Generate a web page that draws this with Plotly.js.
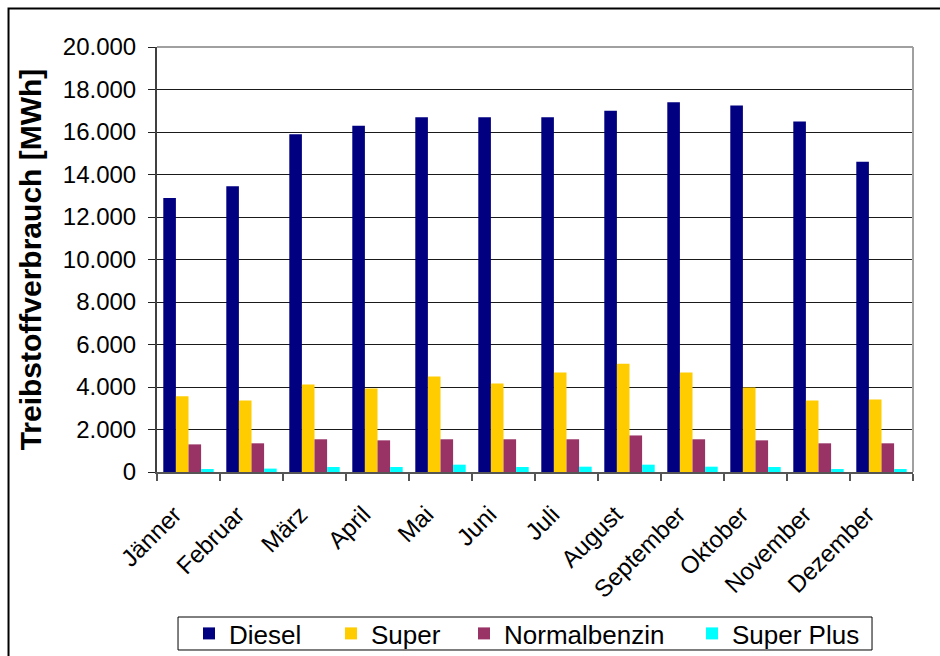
<!DOCTYPE html>
<html>
<head>
<meta charset="utf-8">
<script src="https://cdn.plot.ly/plotly-3.0.1.min.js"></script>
<style>
  html, body { margin: 0; padding: 0; background: #fff; }
  #chart { width: 940px; height: 656px; }
</style>
</head>
<body>
<div id="chart"></div>
<script>
const months = ["Jänner", "Februar", "März", "April", "Mai", "Juni", "Juli", "August", "September", "Oktober", "November", "Dezember"];
const diesel = [12900, 13450, 15900, 16300, 16700, 16700, 16700, 17000, 17400, 17250, 16500, 14600];
const superB = [3570, 3370, 4120, 3930, 4500, 4160, 4680, 5100, 4680, 3980, 3370, 3410];
const normalbenzin = [1300, 1350, 1540, 1490, 1540, 1540, 1540, 1720, 1540, 1490, 1350, 1350];
const superPlus = [140, 160, 235, 235, 345, 235, 250, 345, 250, 235, 140, 140];
const seriesNames = ["Diesel", "Super", "Normalbenzin", "Super Plus"];
const seriesColors = ["#000080", "#FFCC00", "#993366", "#00FFFF"];
const yTitle = "Treibstoffverbrauch [MWh]";

const legendIds = ["legend", "legend2", "legend3", "legend4"];
const legendLeftPx = [189, 331, 464, 692];

const values = [diesel, superB, normalbenzin, superPlus];
const traces = values.map((v, i) => ({
  type: "bar",
  name: seriesNames[i],
  x: months,
  y: v,
  legend: legendIds[i],
  marker: { color: seriesColors[i], line: { width: 0 } },
  hoverinfo: "x+y+name"
}));

const FONT = "Liberation Sans, Arial, sans-serif";
const layout = {
  width: 940,
  height: 656,
  margin: { l: 157, r: 27, t: 47, b: 184 },
  paper_bgcolor: "#ffffff",
  plot_bgcolor: "#ffffff",
  separators: ",.",
  font: { family: FONT, color: "#000000", size: 24 },
  barmode: "group",
  bargap: 0.2,
  bargroupgap: 0,
  showlegend: true,
  xaxis: {
    type: "category",
    automargin: false,
    tickangle: -45,
    showline: true,
    linecolor: "#555555",
    linewidth: 2,
    ticks: "outside",
    tickson: "boundaries",
    ticklen: 7,
    tickwidth: 2,
    tickcolor: "#555555",
    showgrid: false,
    ticklabelstandoff: 17,
    ticklabelshift: -14,
    tickfont: { family: FONT, size: 24, color: "#000000" },
    fixedrange: true
  },
  yaxis: {
    automargin: false,
    range: [0, 20000],
    dtick: 2000,
    tick0: 0,
    tickformat: ",d",
    showline: true,
    linecolor: "#404040",
    linewidth: 2,
    ticks: "outside",
    ticklen: 7,
    tickwidth: 1,
    tickcolor: "#222222",
    showgrid: true,
    gridcolor: "#1a1a1a",
    gridwidth: 1,
    zeroline: false,
    ticklabelstandoff: 7,
    tickfont: { family: FONT, size: 24, color: "#000000" },
    title: { text: "<b>" + yTitle + "</b>", font: { family: FONT, size: 30, color: "#000000" }, standoff: 12 },
    fixedrange: true
  },
  shapes: [
    { type: "line", xref: "paper", yref: "paper", x0: 0, x1: 1, y0: 1, y1: 1, line: { color: "#a0a0a0", width: 2 } },
    { type: "line", xref: "paper", yref: "paper", x0: 1, x1: 1, y0: 0, y1: 1, line: { color: "#a0a0a0", width: 2 } },
    { type: "rect", xref: "paper", yref: "paper", x0: -0.1964, x1: 1.1, y0: -0.55, y1: 1.0906, line: { color: "#000000", width: 2 }, fillcolor: "rgba(0,0,0,0)" },
    { type: "rect", xref: "paper", yref: "paper", x0: 0.0278, x1: 0.9458, y0: -0.4188, y1: -0.3412, line: { color: "#000000", width: 1 }, fillcolor: "rgba(0,0,0,0)" }
  ]
};

legendIds.forEach((id, i) => {
  layout[id] = {
    orientation: "h",
    xref: "container",
    yref: "container",
    x: legendLeftPx[i] / 940,
    xanchor: "left",
    y: 1 - 633.5 / 656,
    yanchor: "middle",
    borderwidth: 0,
    bgcolor: "rgba(0,0,0,0)",
    font: { family: FONT, size: 26, color: "#000000" }
  };
});

Plotly.newPlot("chart", traces, layout, { displayModeBar: false, staticPlot: true });
</script>
</body>
</html>
